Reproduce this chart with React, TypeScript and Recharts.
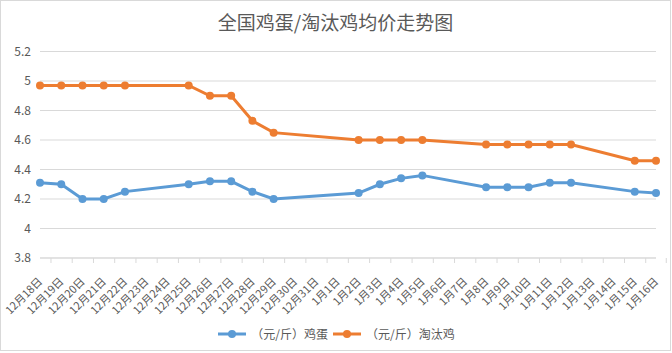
import { LineChart, Line, XAxis, YAxis, CartesianGrid } from "recharts";

const dates = [
  "12月18日", "12月19日", "12月20日", "12月21日", "12月22日", "12月23日",
  "12月24日", "12月25日", "12月26日", "12月27日", "12月28日", "12月29日",
  "12月30日", "12月31日", "1月1日", "1月2日", "1月3日", "1月4日", "1月5日",
  "1月6日", "1月7日", "1月8日", "1月9日", "1月10日", "1月11日", "1月12日",
  "1月13日", "1月14日", "1月15日", "1月16日",
];

// (元/斤) 鸡蛋
const eggPrice = [
  4.31, 4.3, 4.2, 4.2, 4.25, null, null, 4.3, 4.32, 4.32, 4.25, 4.2,
  null, null, null, 4.24, 4.3, 4.34, 4.36, null, null, 4.28, 4.28, 4.28,
  4.31, 4.31, null, null, 4.25, 4.24,
];

// (元/斤) 淘汰鸡
const henPrice = [
  4.97, 4.97, 4.97, 4.97, 4.97, null, null, 4.97, 4.9, 4.9, 4.73, 4.65,
  null, null, null, 4.6, 4.6, 4.6, 4.6, null, null, 4.57, 4.57, 4.57,
  4.57, 4.57, null, null, 4.46, 4.46,
];

const yTicks = [3.8, 4, 4.2, 4.4, 4.6, 4.8, 5, 5.2];

const seriesNames = ["（元/斤）鸡蛋", "（元/斤）淘汰鸡"];
const colors = ["#5B9BD5", "#ED7D31"];

const data = dates.map((d, i) => ({ date: d, egg: eggPrice[i], hen: henPrice[i] }));

const FONT = '"Noto Sans CJK SC", "Noto Sans", sans-serif';
const TEXT = "#595959";

const W = 672;
const H = 353;
const LEFT = 40;
const RIGHT = 656;
const STEP = (RIGHT - LEFT) / dates.length;

function DateTick(props: any) {
  const { x, y, payload, index } = props;
  const left = x - STEP / 2;
  const tx = x + 1;
  const ty = y + 22;
  return (
    <g>
      <line x1={left} y1={y} x2={left} y2={y + 5} stroke="#d9d9d9" />
      {index === dates.length - 1 && (
        <line x1={x + STEP / 2} y1={y} x2={x + STEP / 2} y2={y + 5} stroke="#d9d9d9" />
      )}
      <text
        x={tx}
        y={ty}
        transform={`rotate(-45, ${tx}, ${ty})`}
        textAnchor="end"
        dominantBaseline="middle"
        fontSize={11}
        fill={TEXT}
        fontFamily={FONT}
      >
        {payload.value}
      </text>
    </g>
  );
}

function LegendBox() {
  return (
    <div
      style={{
        position: "absolute",
        top: 325,
        left: 0,
        width: W,
        display: "flex",
        justifyContent: "center",
        alignItems: "center",
        fontFamily: FONT,
        fontSize: 12,
        color: TEXT,
      }}
    >
      {seriesNames.map((n, i) => (
        <div key={n} style={{ display: "flex", alignItems: "center", marginRight: i === 0 ? 4 : 0 }}>
          <svg width={30} height={10} style={{ marginRight: 4 }}>
            <line x1={1} y1={5} x2={29} y2={5} stroke={colors[i]} strokeWidth={3} />
            <circle cx={15} cy={5} r={4} fill={colors[i]} />
          </svg>
          <span>{n}</span>
        </div>
      ))}
    </div>
  );
}

export default function App() {
  return (
    <div style={{ position: "absolute", left: 0, top: 0, width: W, height: H, background: "#fff" }}>
      <div
        style={{
          position: "absolute",
          left: 0,
          top: 0,
          width: W - 1,
          height: H - 2,
          border: "1px solid #d9d9d9",
          boxSizing: "border-box",
        }}
      />
      <div
        style={{
          position: "absolute",
          top: 8,
          width: W - 1,
          textAlign: "center",
          fontFamily: FONT,
          fontSize: 19,
          color: TEXT,
        }}
      >
        全国鸡蛋/淘汰鸡均价走势图
      </div>
      <LineChart width={W} height={H} data={data} margin={{ top: 51.5, right: W - RIGHT, bottom: 0, left: 0 }}>
        <CartesianGrid vertical={false} stroke="#d9d9d9" />
        <XAxis
          dataKey="date"
          interval={0}
          stroke="#d9d9d9"
          tickLine={false}
          tickSize={0}
          tickMargin={0}
          tick={<DateTick />}
          height={H - 258}
        />
        <YAxis
          width={LEFT}
          domain={[3.8, 5.2]}
          ticks={yTicks}
          axisLine={false}
          tickLine={false}
          tickSize={0}
          tickMargin={9}
          tick={{ fontSize: 12, fill: TEXT, fontFamily: FONT }}
        />
        <Line
          dataKey="egg"
          name={seriesNames[0]}
          stroke={colors[0]}
          strokeWidth={3}
          dot={{ r: 4, fill: colors[0], stroke: colors[0], strokeWidth: 0 }}
          connectNulls
          isAnimationActive={false}
        />
        <Line
          dataKey="hen"
          name={seriesNames[1]}
          stroke={colors[1]}
          strokeWidth={3}
          dot={{ r: 4, fill: colors[1], stroke: colors[1], strokeWidth: 0 }}
          connectNulls
          isAnimationActive={false}
        />
      </LineChart>
      <LegendBox />
    </div>
  );
}
